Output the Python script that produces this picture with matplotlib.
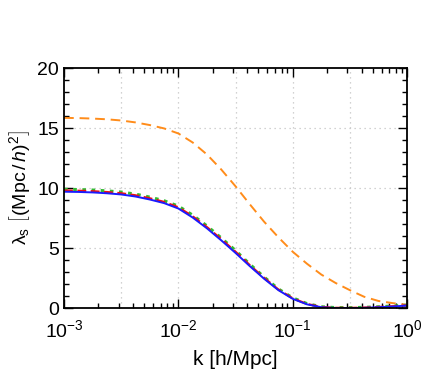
import matplotlib
matplotlib.use('Agg')
import matplotlib.pyplot as plt
import numpy as np
from matplotlib.ticker import MultipleLocator, LogLocator, NullFormatter

plt.rcParams['font.family'] = ['Liberation Sans', 'DejaVu Sans']
plt.rcParams['mathtext.fontset'] = 'custom'
plt.rcParams['mathtext.rm'] = 'Liberation Sans'
plt.rcParams['mathtext.it'] = 'Liberation Sans:italic'

# values (log10 k on a 1/8-decade grid)
log_k = [-3.0, -2.875, -2.75, -2.625, -2.5, -2.375, -2.25, -2.125, -2.0,
         -1.875, -1.75, -1.625, -1.5, -1.375, -1.25, -1.125, -1.0,
         -0.875, -0.75, -0.625, -0.5, -0.375, -0.25, -0.125, 0.0]
lam_blue = [9.70, 9.68, 9.64, 9.57, 9.47, 9.30, 9.05, 8.75, 8.30,
            7.55, 6.65, 5.65, 4.60, 3.50, 2.45, 1.50, 0.78,
            0.32, 0.08, 0.01, 0.00, 0.03, 0.08, 0.14, 0.22]
lam_red = [9.80, 9.78, 9.74, 9.67, 9.57, 9.40, 9.15, 8.85, 8.40,
           7.65, 6.75, 5.75, 4.70, 3.58, 2.52, 1.55, 0.82,
           0.35, 0.10, 0.03, 0.02, 0.05, 0.10, 0.16, 0.24]
lam_green = [9.90, 9.88, 9.84, 9.77, 9.67, 9.50, 9.25, 8.95, 8.50,
             7.75, 6.85, 5.85, 4.80, 3.66, 2.59, 1.60, 0.86,
             0.38, 0.12, 0.05, 0.04, 0.07, 0.12, 0.18, 0.26]
lam_orange = [15.85, 15.83, 15.79, 15.73, 15.63, 15.47, 15.25, 14.97, 14.55,
              13.80, 12.80, 11.55, 10.15, 8.65, 7.20, 5.90, 4.70,
              3.70, 2.80, 2.10, 1.50, 0.95, 0.60, 0.42, 0.28]

k = 10.0 ** np.array(log_k)

fig = plt.figure(figsize=(4.24, 3.8), dpi=100)
ax = fig.add_axes([0.151, 0.189, 0.809, 0.632])

ax.plot(k, lam_orange, color='#ff8c1a', ls=(0, (5, 3)), lw=1.4)
ax.plot(k, lam_green, color='#33bb33', ls=(0, (1.2, 1.8)), lw=2.2)
ax.plot(k, lam_red, color='#ee1111', ls=(0, (4, 2)), lw=1.6)
ax.plot(k, lam_blue, color='#1a1aff', ls='-', lw=1.4)

ax.set_xscale('log')
ax.set_xlim(1e-3, 1)
ax.set_ylim(0, 20)

# dotted grid on half decades and every 5 units
for g in [10 ** -2.5, 1e-2, 10 ** -1.5, 1e-1, 10 ** -0.5]:
    ax.axvline(g, color='#c4c4c4', ls=(0, (1, 3)), lw=0.9, zorder=0)
for g in [5, 10, 15]:
    ax.axhline(g, color='#c4c4c4', ls=(0, (1, 3)), lw=0.9, zorder=0)

ax.yaxis.set_major_locator(MultipleLocator(5))
ax.yaxis.set_minor_locator(MultipleLocator(1))
ax.xaxis.set_major_locator(LogLocator(base=10, numticks=10))
ax.xaxis.set_minor_locator(LogLocator(base=10, subs=np.arange(2, 10), numticks=10))
ax.xaxis.set_minor_formatter(NullFormatter())

ax.tick_params(which='both', direction='in', top=True, right=True, width=1.0)
ax.tick_params(which='major', length=6.5)
ax.tick_params(which='minor', length=3.5)
ax.tick_params(axis='y', labelsize=14)
ax.tick_params(axis='x', labelsize=14, pad=8)
for s in ax.spines.values():
    s.set_linewidth(1.3)

ax.set_xlabel('k [h/Mpc]', fontsize=15, labelpad=6)
ax.set_ylabel(r'$\mathrm{\lambda_s}\ \left[\left(\mathrm{Mpc}\,/\,h\right)^2\right]$',
              fontsize=14, labelpad=4)

fig.savefig('out.png', dpi=100)
